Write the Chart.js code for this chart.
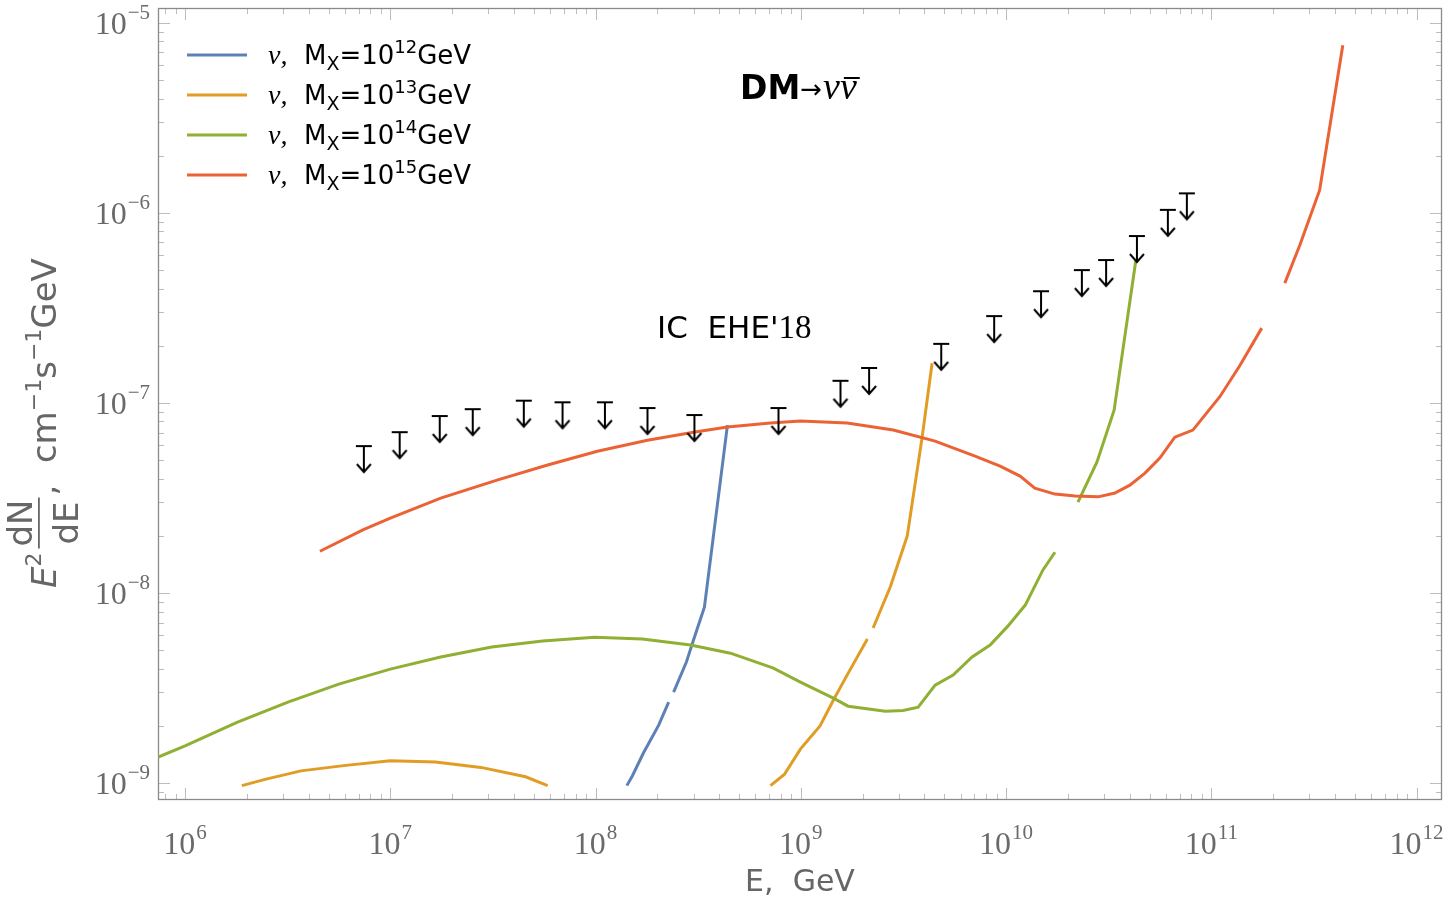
<!DOCTYPE html>
<html>
<head>
<meta charset="utf-8">
<script src="https://cdn.jsdelivr.net/npm/chart.js@4.4.1/dist/chart.umd.min.js"></script>
<style>
  html, body { margin: 0; padding: 0; background: #fff; }
  #wrap { width: 1453px; height: 903px; }
</style>
</head>
<body>
<div id="wrap"><canvas id="c" width="1453" height="903"></canvas></div>
<script>
// axis ranges (log-log)
const X_MIN = 7.38e5, X_MAX = 1.33e12;
const Y_MIN = 8.15e-10, Y_MAX = 1.2e-5;
const xDecades = [6, 7, 8, 9, 10, 11, 12];
const yDecades = [-9, -8, -7, -6, -5];

// legend: nu, M_X = 10^n GeV
const massExp = ["12", "13", "14", "15"];
const colors = ["#5E81B5", "#E19C24", "#8FB032", "#EB6235"];

// E (GeV) and E^2 dN/dE; null = gap in the curve
const blueE = [1.42e8, 1.51e8, 1.71e8, 2.03e8, 2.27e8, 2.33e8, 2.40e8, 2.77e8, 3.00e8, 3.39e8, 4.39e8];
const blueF = [9.7e-10, 1.09e-9, 1.44e-9, 2.02e-9, 2.67e-9, null, 3.01e-9, 4.34e-9, 5.66e-9, 8.44e-9, 7.66e-8];

const orangeE = [1.89e6, 2.48e6, 3.67e6, 6.07e6, 1.00e7, 1.66e7, 2.76e7, 4.56e7, 5.84e7, 1.6e8,
  7.11e8, 8.31e8, 9.95e8, 1.24e9, 1.44e9, 1.68e9, 2.11e9, 2.18e9, 2.25e9, 2.73e9, 3.30e9, 3.90e9, 4.36e9];
const orangeF = [9.7e-10, 1.05e-9, 1.16e-9, 1.24e-9, 1.31e-9, 1.29e-9, 1.21e-9, 1.08e-9, 9.7e-10, null,
  9.7e-10, 1.11e-9, 1.51e-9, 2.00e-9, 2.73e-9, 3.70e-9, 5.73e-9, null, 6.55e-9, 1.08e-8, 2.0e-8, 6.62e-8, 1.62e-7];

const greenE = [7.4e5, 1e6, 1.79e6, 3.17e6, 5.61e6, 1.0e7, 1.76e7, 3.12e7, 5.52e7, 9.89e7, 1.69e8, 2.90e8,
  4.54e8, 7.35e8, 9.95e8, 1.44e9, 1.70e9, 2.01e9, 2.58e9, 3.15e9, 3.73e9, 4.51e9, 5.52e9, 6.83e9, 8.36e9,
  1.02e10, 1.24e10, 1.51e10, 1.73e10, 2.0e10, 2.24e10, 2.77e10, 3.36e10, 4.29e10];
const greenF = [1.37e-9, 1.57e-9, 2.09e-9, 2.67e-9, 3.32e-9, 3.98e-9, 4.61e-9, 5.20e-9, 5.59e-9, 5.86e-9, 5.73e-9, 5.33e-9,
  4.83e-9, 4.03e-9, 3.40e-9, 2.80e-9, 2.54e-9, 2.48e-9, 2.39e-9, 2.41e-9, 2.51e-9, 3.28e-9, 3.70e-9, 4.61e-9, 5.33e-9,
  6.70e-9, 8.65e-9, 1.32e-8, 1.64e-8, null, 3.01e-8, 4.89e-8, 9.18e-8, 5.66e-7];

const redE = [4.54e6, 7.35e6, 1.0e7, 1.76e7, 3.34e7, 5.84e7, 1.02e8, 1.79e8, 3.00e8, 4.39e8, 7.11e8, 9.95e8,
  1.68e9, 2.82e9, 4.51e9, 7.06e9, 9.35e9, 1.17e10, 1.38e10, 1.73e10, 2.17e10, 2.81e10, 3.39e10, 4.01e10,
  4.75e10, 5.61e10, 6.64e10, 8.13e10, 1.10e11, 1.38e11, 1.76e11, 2.0e11, 2.28e11, 2.70e11, 3.37e11, 4.37e11];
const redF = [1.66e-8, 2.15e-8, 2.48e-8, 3.16e-8, 3.94e-8, 4.72e-8, 5.58e-8, 6.38e-8, 7.03e-8, 7.48e-8, 7.85e-8, 8.04e-8,
  7.85e-8, 7.21e-8, 6.31e-8, 5.26e-8, 4.66e-8, 4.13e-8, 3.57e-8, 3.32e-8, 3.24e-8, 3.21e-8, 3.36e-8, 3.70e-8,
  4.28e-8, 5.14e-8, 6.62e-8, 7.21e-8, 1.08e-7, 1.58e-7, 2.48e-7, null, 4.28e-7, 6.79e-7, 1.32e-6, 7.65e-6];

// IceCube EHE 2018 upper limits
const limitE = [7.43e6, 1.11e7, 1.74e7, 2.52e7, 4.47e7, 6.90e7, 1.11e8, 1.79e8, 3.03e8, 7.78e8,
  1.56e9, 2.15e9, 4.83e9, 8.75e9, 1.48e10, 2.34e10, 3.07e10, 4.34e10, 6.14e10, 7.60e10];
const limitF = [5.94e-8, 7.03e-8, 8.55e-8, 9.29e-8, 1.03e-7, 1.01e-7, 1.01e-7, 9.42e-8, 8.65e-8, 9.42e-8,
  1.31e-7, 1.53e-7, 2.05e-7, 2.87e-7, 3.88e-7, 5.01e-7, 5.66e-7, 7.57e-7, 1.04e-6, 1.27e-6];

const SANS = "'DejaVu Sans'";
const SERIF = "'Liberation Serif'";

function pts(E, F) { return E.map((e, i) => ({ x: e, y: F[i] })); }

// upper-limit marker: bar at the centre, arrow pointing down
function limitMarker() {
  const c = document.createElement("canvas");
  c.width = 20; c.height = 60;
  const g = c.getContext("2d");
  g.strokeStyle = "#000"; g.lineWidth = 2;
  g.beginPath();
  g.moveTo(2, 30); g.lineTo(18, 30);
  g.moveTo(10, 30); g.lineTo(10, 56);
  g.moveTo(3, 48); g.lineTo(10, 56); g.lineTo(17, 48);
  g.stroke();
  return c;
}

// draw a sequence of text runs, each {t, f, dy}
function runs(ctx, x, y, list) {
  for (const r of list) {
    ctx.font = r.f;
    ctx.fillText(r.t, x, y + (r.dy || 0));
    x += ctx.measureText(r.t).width + (r.gap || 0);
  }
  return x;
}
function runsWidth(ctx, list) {
  let w = 0;
  for (const r of list) { ctx.font = r.f; w += ctx.measureText(r.t).width + (r.gap || 0); }
  return w;
}
function powRuns(exp) {
  const e = exp < 0 ? "\u2212" + (-exp) : String(exp);
  return [{ t: "10", f: `32px ${SERIF}`, gap: 1 }, { t: e, f: `21px ${SERIF}`, dy: -15 }];
}

const decor = {
  id: "decor",
  beforeDatasetsDraw(chart) {
    const { ctx, chartArea: a, scales: { x, y } } = chart;
    ctx.save();
    ctx.strokeStyle = "#bdbdbd"; ctx.lineWidth = 1;
    ctx.beginPath();
    for (let d = 5; d <= 12; d++) for (let m = 1; m <= 9; m++) {
      const v = m * Math.pow(10, d);
      if (v < X_MIN || v > X_MAX) continue;
      const p = Math.round(x.getPixelForValue(v)) + 0.5, len = m === 1 ? 12 : 6;
      ctx.moveTo(p, a.bottom); ctx.lineTo(p, a.bottom - len);
      ctx.moveTo(p, a.top); ctx.lineTo(p, a.top + len);
    }
    for (let d = -10; d <= -5; d++) for (let m = 1; m <= 9; m++) {
      const v = m * Math.pow(10, d);
      if (v < Y_MIN || v > Y_MAX) continue;
      const p = Math.round(y.getPixelForValue(v)) + 0.5, len = m === 1 ? 12 : 6;
      ctx.moveTo(a.left, p); ctx.lineTo(a.left + len, p);
      ctx.moveTo(a.right, p); ctx.lineTo(a.right - len, p);
    }
    ctx.stroke();
    ctx.strokeStyle = "#8a8a8a"; ctx.lineWidth = 1.3;
    ctx.strokeRect(Math.round(a.left) + 0.5, Math.round(a.top) + 0.5,
      Math.round(a.right - a.left) - 1, Math.round(a.bottom - a.top) - 1);
    ctx.restore();
  },
  afterDraw(chart) {
    const { ctx, scales: { x, y } } = chart;
    ctx.save();
    ctx.textBaseline = "alphabetic";
    // tick labels
    ctx.fillStyle = "#6a6a6a";
    for (const d of xDecades) {
      const list = powRuns(d);
      const px = x.getPixelForValue(Math.pow(10, d));
      runs(ctx, px - runsWidth(ctx, list) / 2, 854, list);
    }
    for (const d of yDecades) {
      const list = powRuns(d);
      const py = y.getPixelForValue(Math.pow(10, d));
      runs(ctx, 150 - runsWidth(ctx, list), py + 11, list);
    }
    // x title
    ctx.fillStyle = "#666";
    ctx.font = `30px ${SANS}`;
    ctx.textAlign = "center";
    ctx.fillText("E,  GeV", 800, 891);
    ctx.textAlign = "left";
    // y title, rotated
    ctx.save();
    ctx.translate(56, 588);
    ctx.rotate(-Math.PI / 2);
    let u = runs(ctx, 0, 0, [
      { t: "E", f: `italic 34px ${SANS}` },
      { t: "2", f: `22px ${SANS}`, dy: -15, gap: 4 }
    ]);
    ctx.font = `34px ${SANS}`;
    const wN = ctx.measureText("dN").width, wD = ctx.measureText("dE").width, wf = Math.max(wN, wD) + 4;
    ctx.fillText("dN", u + (wf - wN) / 2, -24);
    ctx.fillText("dE", u + (wf - wD) / 2, 22);
    ctx.fillRect(u, -18, wf, 1.8);
    u += wf + 2;
    runs(ctx, u, 0, [
      { t: ",  cm", f: `34px ${SANS}` },
      { t: "\u22121", f: `22px ${SANS}`, dy: -15 },
      { t: "s", f: `34px ${SANS}` },
      { t: "\u22121", f: `22px ${SANS}`, dy: -15 },
      { t: "GeV", f: `34px ${SANS}` }
    ]);
    ctx.restore();

    // legend
    ctx.fillStyle = "#000";
    massExp.forEach((ex, i) => {
      const ly = 55 + 40 * i;
      ctx.strokeStyle = colors[i]; ctx.lineWidth = 3;
      ctx.beginPath(); ctx.moveTo(187, ly); ctx.lineTo(247, ly); ctx.stroke();
      runs(ctx, 268, ly + 9, [{ t: "\u03bd,", f: `italic 28px ${SERIF}` }]);
      runs(ctx, 304, ly + 9, [
        { t: "M", f: `26px ${SANS}` },
        { t: "X", f: `19px ${SANS}`, dy: 6 },
        { t: "=10", f: `26px ${SANS}` },
        { t: ex, f: `18px ${SANS}`, dy: -11 },
        { t: "GeV", f: `26px ${SANS}` }
      ]);
    });

    // annotations
    const endDM = runs(ctx, 740, 99, [
      { t: "DM", f: `bold 33px ${SANS}` },
      { t: "\u2192", f: `26px ${SANS}`, dy: -1, gap: 1 },
      { t: "\u03bd", f: `italic 38px ${SERIF}` }
    ]);
    ctx.font = `italic 38px ${SERIF}`;
    const wnu = ctx.measureText("\u03bd").width;
    ctx.fillText("\u03bd", endDM, 99);
    ctx.fillRect(endDM + 4, 77, wnu - 1, 2);

    runs(ctx, 657, 338, [
      { t: "IC  EHE'", f: `31px ${SANS}` },
      { t: "18", f: `33px ${SERIF}` }
    ]);
    ctx.restore();
  }
};

const lineSet = (E, F, i, order) => ({
  type: "line",
  data: pts(E, F),
  borderColor: colors[i],
  borderWidth: 3,
  pointRadius: 0,
  tension: 0,
  fill: false,
  spanGaps: false,
  order
});

new Chart(document.getElementById("c"), {
  type: "line",
  data: {
    datasets: [
      {
        type: "line",
        data: pts(limitE, limitF),
        showLine: false,
        pointStyle: limitMarker(),
        pointRadius: 5,
        clip: false,
        order: 0
      },
      lineSet(redE, redF, 3, 1),
      lineSet(greenE, greenF, 2, 2),
      lineSet(orangeE, orangeF, 1, 3),
      lineSet(blueE, blueF, 0, 4)
    ]
  },
  options: {
    responsive: false,
    animation: false,
    devicePixelRatio: 1,
    layout: { padding: { top: 8, right: 11, left: 0, bottom: 0 } },
    plugins: { legend: { display: false }, tooltip: { enabled: false } },
    scales: {
      x: {
        type: "logarithmic", min: X_MIN, max: X_MAX,
        grid: { display: false, drawTicks: false }, border: { display: false },
        ticks: { display: false },
        afterFit(s) { s.height = 103; }
      },
      y: {
        type: "logarithmic", min: Y_MIN, max: Y_MAX,
        grid: { display: false, drawTicks: false }, border: { display: false },
        ticks: { display: false },
        afterFit(s) { s.width = 158; }
      }
    }
  },
  plugins: [decor]
});
</script>
</body>
</html>
